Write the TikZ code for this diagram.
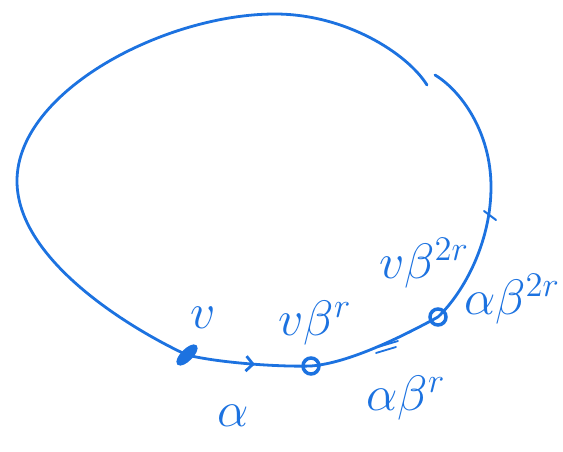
\documentclass[tikz,border=0pt]{standalone}
\usetikzlibrary{arrows.meta, positioning, calc, decorations.markings, shapes.geometric}
\definecolor{pen}{HTML}{1C72E0}
\begin{document}
\begin{tikzpicture}[x=1pt, y=1pt,
    stroke/.style={draw=pen, line width=2.8pt, line cap=round, line join=round},
    pt/.style={circle, draw=pen, line width=3.5pt, minimum size=16pt, inner sep=0pt},
    blob/.style={ellipse, draw=pen, fill=pen, line width=3pt, minimum width=24pt,
      minimum height=9pt, inner sep=0pt, rotate=45},
    lbl/.style={text=pen, font=\huge, scale=2.4, transform shape, inner sep=0pt},
    midarrow/.style={postaction={decorate}, decoration={markings,
      mark=at position 0.55 with {\arrow[pen]{Straight Barb[length=7pt, width=15pt]}}}}
  ]
  \useasboundingbox (0,0) rectangle (563,451);

  % points on the loop
  \coordinate (v) at (187,96);
  \coordinate (vbr) at (311,85);
  \coordinate (vbb) at (438,134);
  \coordinate (gapL) at (427,366);
  \coordinate (gapR) at (435,376);
  \coordinate (top) at (275,437);
  \coordinate (left) at (17,270);
  \coordinate (right) at (491,264);

  % the loop
  \draw[stroke] (gapL) .. controls (407,398) and (345,437) .. (top)
    .. controls (165,437) and (17,360) .. (left)
    .. controls (17,190) and (133,121) .. (v);
  \draw[stroke, midarrow] (v) .. controls (220,88) and (280,84) .. (vbr);
  \draw[stroke] (vbr) .. controls (350,88) and (405,116) .. (vbb);
  \draw[stroke] (vbb) .. controls (465,160) and (491,210) .. (right)
    .. controls (491,320) and (460,361) .. (gapR);

  \node[blob] (nv) at (v) {};
  \node[pt] (nvbr) at (vbr) {};
  \node[pt] (nvbb) at (vbb) {};

  % labels
  \node[lbl] (lv) at (203,133) {$v$};
  \node[lbl] (lvbr) at (315,128) {$v\beta^r$};
  \node[lbl] (lvbb) at (424,188) {$v\beta^{2r}$};
  \node[lbl] (la) at (233,35) {$\alpha$};
  \node[lbl] (labr) at (406,53) {$\alpha\beta^r$};
  \node[lbl] (labb) at (512,152) {$\alpha\beta^{2r}$};

  % marks
  \draw[stroke, line width=1.8pt] (378,104) -- (398,110);
  \draw[stroke, line width=1.8pt] (376,98) -- (396,104);
  \draw[stroke, line width=2pt] (484,240) -- (496,231);
\end{tikzpicture}
\end{document}
